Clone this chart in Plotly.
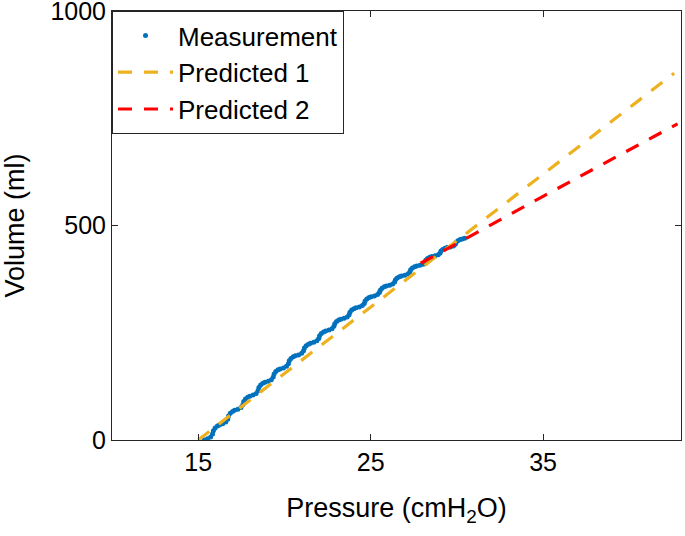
import plotly.graph_objects as go

meas_p = [
    15.35, 15.54, 15.72, 15.83, 15.88, 15.98, 16.11,
    16.23, 16.42, 16.60, 16.71, 16.76, 16.86, 16.99,
    17.11, 17.30, 17.48, 17.59, 17.64, 17.74, 17.87,
    17.99, 18.18, 18.36, 18.47, 18.52, 18.62, 18.75,
    18.87, 19.06, 19.24, 19.35, 19.40, 19.50, 19.63,
    19.75, 19.94, 20.12, 20.23, 20.28, 20.38, 20.51,
    20.63, 20.82, 21.00, 21.11, 21.16, 21.26, 21.39,
    21.51, 21.70, 21.88, 21.99, 22.04, 22.14, 22.27,
    22.39, 22.58, 22.76, 22.87, 22.92, 23.02, 23.15,
    23.27, 23.46, 23.64, 23.75, 23.80, 23.90, 24.03,
    24.15, 24.34, 24.52, 24.63, 24.68, 24.78, 24.91,
    25.03, 25.22, 25.40, 25.51, 25.56, 25.66, 25.79,
    25.91, 26.10, 26.28, 26.39, 26.44, 26.54, 26.67,
    26.79, 26.98, 27.16, 27.27, 27.32, 27.42, 27.55,
    27.67, 27.86, 28.04, 28.15, 28.20, 28.30, 28.43,
    28.55, 28.74, 28.92, 29.03, 29.08, 29.18, 29.31,
    29.43, 29.62, 29.80, 29.91, 29.96, 30.06, 30.19,
    30.31, 30.45,
]
meas_v = [
    0.0, 2.8, 7.0, 14.0, 21.7, 28.0, 32.6,
    35.0, 37.7, 41.8, 48.6, 56.1, 62.3, 66.7,
    69.1, 71.7, 75.7, 82.3, 89.6, 95.6, 99.9,
    102.2, 104.8, 108.6, 115.1, 122.2, 128.0, 132.1,
    134.4, 136.9, 140.7, 146.9, 153.8, 159.4, 163.5,
    165.7, 168.1, 171.8, 177.9, 184.5, 190.0, 194.0,
    196.1, 198.4, 202.0, 207.8, 214.3, 219.5, 223.3,
    225.4, 227.7, 231.1, 236.8, 243.1, 248.3, 252.0,
    254.0, 256.2, 259.5, 265.0, 271.1, 276.1, 279.7,
    281.6, 283.7, 286.9, 292.2, 298.0, 302.8, 306.2,
    308.1, 310.2, 313.3, 318.4, 324.1, 328.7, 332.1,
    333.9, 335.9, 338.9, 343.8, 349.3, 353.7, 357.0,
    358.7, 360.6, 363.5, 368.2, 373.5, 377.7, 380.8,
    382.5, 384.3, 387.1, 391.7, 396.7, 400.8, 403.8,
    405.4, 407.2, 409.8, 414.2, 419.1, 423.1, 426.0,
    427.5, 429.2, 431.7, 435.9, 440.5, 444.3, 447.0,
    448.5, 450.1, 452.5, 456.5, 461.0, 464.6, 467.2,
    468.6, 470.0,
]

# Predicted 1
pred1_p = [15.0, 25.0, 35.0, 42.6]
pred1_v = [0.0, 310.0, 620.0, 855.0]

# Predicted 2
pred2_p = [27.9, 35.0, 42.8]
pred2_v = [412.0, 568.0, 737.0]

x_ticks = [15, 25, 35]
y_ticks = [0, 500, 1000]

FONT = "Liberation Sans, Arial, Helvetica, sans-serif"
AX = "#262626"

fig = go.Figure()
fig.add_trace(go.Scatter(
    x=meas_p, y=meas_v, mode="markers", name="Measurement",
    marker=dict(color="#0072BD", size=5),
))
fig.add_trace(go.Scatter(
    x=pred1_p, y=pred1_v, mode="lines", name="Predicted 1",
    line=dict(color="#EDB120", width=3.2, dash="14px,12px"),
))
fig.add_trace(go.Scatter(
    x=pred2_p, y=pred2_v, mode="lines", name="Predicted 2",
    line=dict(color="#FF0000", width=3.2, dash="14px,12px"),
))

axis_common = dict(
    showgrid=False, zeroline=False, showline=True, linecolor=AX, linewidth=1,
    mirror="ticks", ticks="inside", ticklen=6, tickcolor=AX, tickwidth=1,
    tickfont=dict(family=FONT, size=25, color="#000"),
    automargin=False, ticklabeloverflow="allow",
)

fig.update_xaxes(
    range=[10, 43], tickmode="array", tickvals=x_ticks,
    ticktext=[str(t) for t in x_ticks],
    title=dict(text="Pressure (cmH<sub>2</sub>O)", font=dict(family=FONT, size=27, color="#000"), standoff=23),
    **axis_common,
)
fig.update_yaxes(
    range=[0, 1000], tickmode="array", tickvals=y_ticks,
    ticktext=[str(t) for t in y_ticks],
    title=dict(text="Volume (ml)", font=dict(family=FONT, size=27, color="#000"), standoff=21),
    **axis_common,
)

fig.update_layout(
    width=685, height=536,
    margin=dict(l=112, r=4, t=11, b=96),
    paper_bgcolor="white", plot_bgcolor="white",
    font=dict(family=FONT, color="#000"),
    legend=dict(
        x=0, y=1, xanchor="left", yanchor="top",
        bgcolor="white", bordercolor=AX, borderwidth=1,
        font=dict(family=FONT, size=26, color="#000"),
        tracegroupgap=0, itemwidth=55,
    ),
    showlegend=True,
)

fig.write_html(
    "out.html",
    config={"displayModeBar": False},
    post_script="document.body.style.margin='0px';document.body.style.padding='0px';document.body.style.overflow='hidden';",
)
